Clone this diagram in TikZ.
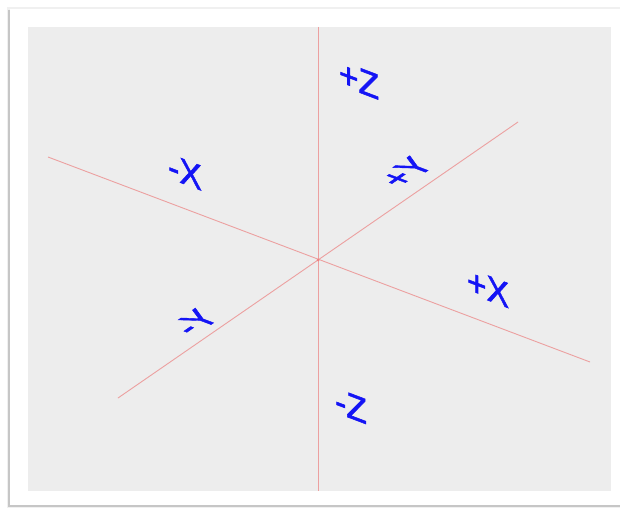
\documentclass[tikz,border=0pt]{standalone}
\usepackage{fontspec}
\newfontfamily\lblfont{Liberation Sans}[FakeBold=1.6]
\definecolor{panel}{HTML}{EDEDED}
\definecolor{axisred}{RGB}{236,160,160}
\definecolor{labelblue}{RGB}{20,20,245}
\tikzset{
  axis/.style={draw=axisred, line width=0.9pt},
  xzlabel/.style={text=labelblue, inner sep=0pt, font=\lblfont\fontsize{36}{36}\selectfont, cm={0.935,-0.354,0,1,(0,0)}},
  ylabel/.style={text=labelblue, inner sep=0pt, font=\lblfont\fontsize{36}{36}\selectfont, cm={0.76,0.525,-1.03,0.39,(0,0)}}
}
\begin{document}
\begin{tikzpicture}[x=1pt,y=-1pt]
\useasboundingbox (0,0) rectangle (620,508);
% frame with shadow
\fill[gray!12] (7,7) rectangle (621,508);
\fill[gray!45] (8,10) rectangle (621,507);
\fill[white] (10,9) rectangle (621,505);
\fill[panel] (28,27) rectangle (611,491);
% axes
\coordinate (o) at (318,260);
\coordinate (ztop) at (318,27);
\coordinate (zbot) at (318,491);
\coordinate (xneg) at (48,157);
\coordinate (xpos) at (590,362);
\coordinate (yneg) at (118,398);
\coordinate (ypos) at (518,122);
\draw[axis] (ztop) -- (zbot);
\draw[axis] (xneg) -- (xpos);
\draw[axis] (yneg) -- (ypos);
\fill[axisred!80!red] (o) circle (1.5pt);
% labels
\node[xzlabel] (pz) at (359,80) {+Z};
\node[xzlabel] (mz) at (351,406) {-Z};
\node[xzlabel] (mx) at (185,172) {-X};
\node[xzlabel] (px) at (488,288) {+X};
\node[ylabel] (py) at (406,172) {+Y};
\node[ylabel] (my) at (195,322) {-Y};
\end{tikzpicture}
\end{document}
